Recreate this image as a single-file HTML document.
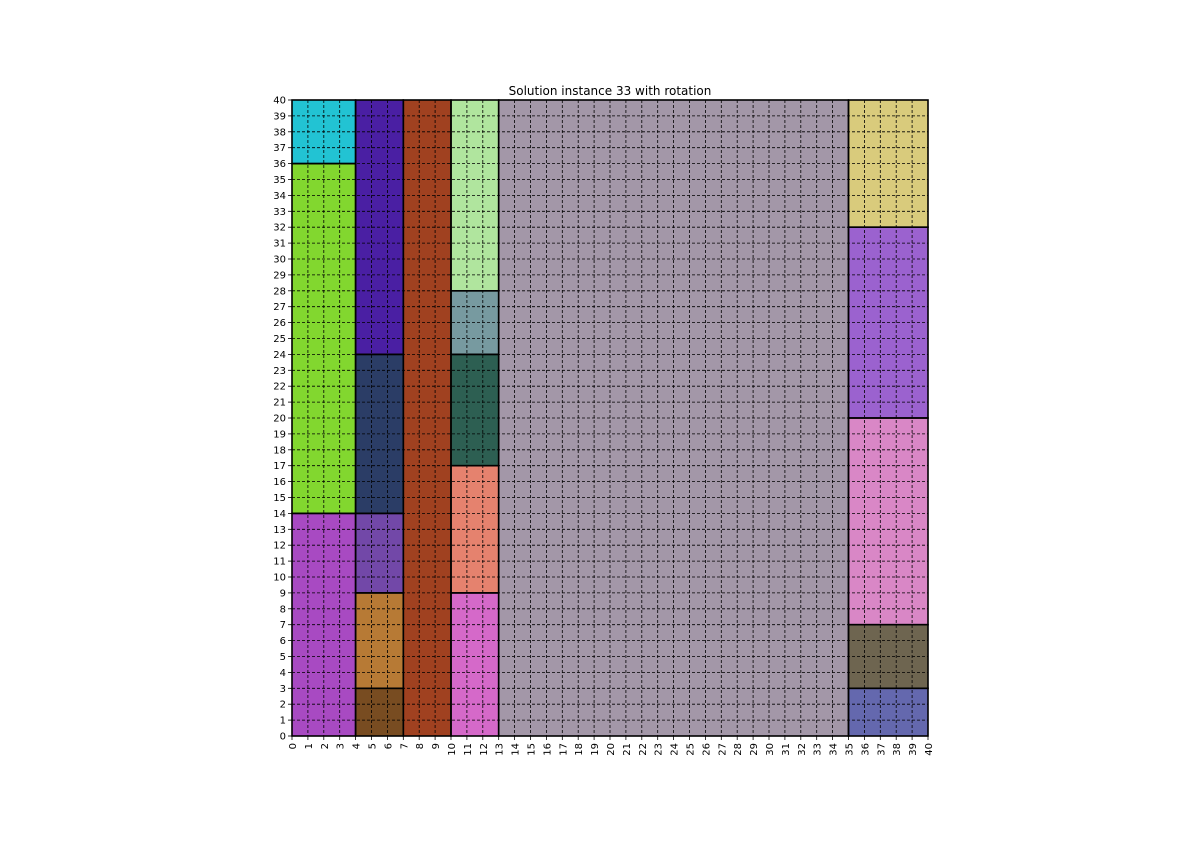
<!DOCTYPE html>
<html><head><meta charset="utf-8"><style>
html,body{margin:0;padding:0;background:#fff;width:1190px;height:841px;overflow:hidden;font-family:"Liberation Sans","DejaVu Sans",sans-serif}
</style></head><body>
<svg id="chart" width="1190" height="841" xmlns="http://www.w3.org/2000/svg">
<text x="610" y="95" font-size="12" text-anchor="middle" font-family="DejaVu Sans, Liberation Sans, sans-serif">Solution instance 33 with rotation</text>
<g id="rects"></g><g id="grid"></g><g id="outl"></g><g id="ticks"></g>
</svg>
<script>
const rectX=[0,0,0,4,4,4,4,4,7,10,10,10,10,10,13,35,35,35,35,35];
const rectY=[36,14,0,24,14,9,3,0,0,28,24,17,9,0,0,32,20,7,3,0];
const rectW=[4,4,4,3,3,3,3,3,3,3,3,3,3,3,22,5,5,5,5,5];
const rectH=[4,22,14,16,10,5,6,3,40,12,4,7,8,9,40,8,12,13,4,3];
const rectColors=["#22c3d3","#82d72f","#a84ac2","#4a1fa3","#2b3d66","#7248a8","#b77a35","#784c21","#a04120","#b0e59e","#779aa0","#2d5f52","#e5826e","#d569c9","#a397a8","#d9cb7c","#9b62cf","#d987c6","#6e6550","#6468ae"];
const tickValues=[...Array(41).keys()];
const X0=292,X1=928,Y0=736,Y1=100,W=40,H=40;
const sx=v=>X0+(X1-X0)*v/W, sy=v=>Y0-(Y0-Y1)*v/H;
const NS="http://www.w3.org/2000/svg";
function mk(t,a,p){const e=document.createElementNS(NS,t);for(const k in a)e.setAttribute(k,a[k]);p.appendChild(e);return e;}
const gR=document.getElementById('rects'),gG=document.getElementById('grid'),gO=document.getElementById('outl'),gT=document.getElementById('ticks');
rectX.forEach((x,i)=>{
 const r=mk('rect',{x:sx(x),y:sy(rectY[i]+rectH[i]),width:sx(x+rectW[i])-sx(x),height:sy(rectY[i])-sy(rectY[i]+rectH[i]),fill:rectColors[i]},gR);
 
 
 const o=mk('rect',{x:sx(x),y:sy(rectY[i]+rectH[i]),width:sx(x+rectW[i])-sx(x),height:sy(rectY[i])-sy(rectY[i]+rectH[i]),fill:'none',stroke:'#000','stroke-width':1.6},gO);
 
 
});
tickValues.forEach(v=>{
 if(v>0&&v<40){
  mk('line',{x1:sx(v),x2:sx(v),y1:Y1,y2:Y0,stroke:'#000','stroke-width':0.8,'stroke-dasharray':'3,2'},gG);
  mk('line',{x1:X0,x2:X1,y1:sy(v),y2:sy(v),stroke:'#000','stroke-width':0.8,'stroke-dasharray':'3,2'},gG);
 }
 mk('line',{x1:sx(v),x2:sx(v),y1:Y0,y2:Y0+4,stroke:'#000','stroke-width':0.8},gT);
 mk('line',{x1:X0-4,x2:X0,y1:sy(v),y2:sy(v),stroke:'#000','stroke-width':0.8},gT);
 const tx=mk('text',{x:sx(v)+4,y:Y0+7,'font-size':10,'text-anchor':'end',transform:`rotate(-90 ${sx(v)+4} ${Y0+7})`,'font-family':'DejaVu Sans, sans-serif'},gT);
 tx.textContent=v;
 
 
 const ty=mk('text',{x:X0-6,y:sy(v)+3.5,'font-size':10,'text-anchor':'end','font-family':'DejaVu Sans, sans-serif'},gT);
 ty.textContent=v;
 
 
});
const fr=mk('rect',{x:X0,y:Y1,width:X1-X0,height:Y0-Y1,fill:'none',stroke:'#000','stroke-width':1},gT);


</script>
</body></html>
